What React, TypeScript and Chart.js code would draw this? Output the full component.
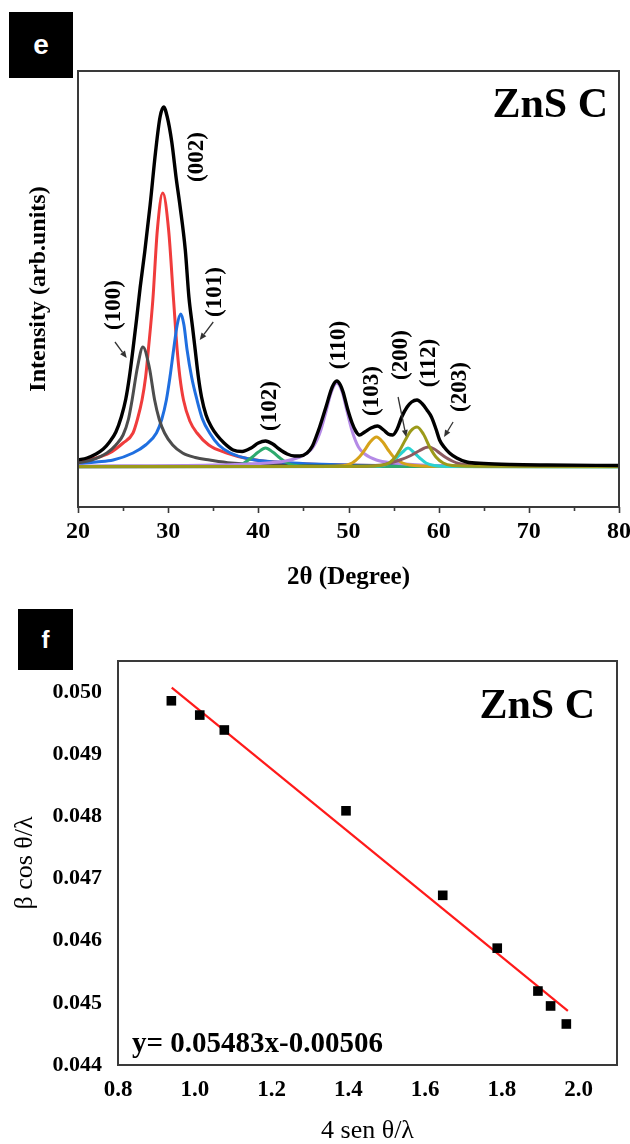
import React, { useEffect, useRef } from 'react';
import { Chart, registerables } from 'chart.js';

Chart.register(...registerables);

const SERIF = "'Liberation Serif', 'Times New Roman', Times, serif";
const SANS = "'Liberation Sans', Arial, Helvetica, sans-serif";

type Pt = [number, number];

// ---------------- Panel e : XRD profile fit (2θ in degrees, intensity arb. units) ----------------
const X_RANGE_E = [20, 80];
const Y_RANGE_E = [-40, 396];
const X_MAJOR_TICKS_E = [20, 30, 40, 50, 60, 70, 80];
const X_MINOR_TICKS_E = [25, 35, 45, 55, 65, 75];

const ENVELOPE: Pt[] = [
  [20, 7], [21, 9], [22, 13], [22.8, 18], [23.5, 25], [24.2, 35], [24.8, 50], [25.3, 68], [25.7, 90],
  [26.1, 118], [26.5, 148], [26.9, 180], [27.4, 215], [28.0, 262], [28.6, 315], [29.1, 350], [29.5, 360],
  [29.9, 350], [30.4, 325], [30.9, 288], [31.3, 262], [31.9, 217], [32.3, 170], [32.7, 140], [33.0, 117],
  [33.35, 90], [33.7, 70], [34.2, 52], [34.8, 40], [35.4, 32], [36.2, 24], [37.2, 17], [38.2, 15.5], [39.2, 19], [40, 24],
  [40.8, 26], [41.6, 23], [42.3, 18], [43.2, 13], [44, 11], [44.6, 11], [45.4, 14], [46, 21], [46.4, 30],
  [46.8, 40], [47.5, 60], [48.2, 80], [48.7, 86], [49.1, 82], [49.4, 75], [49.9, 58], [50.4, 44], [50.8, 36],
  [51.2, 32], [51.8, 35], [52.5, 39], [53.2, 41], [53.9, 37], [54.4, 33], [54.9, 32], [55.4, 38], [55.9, 50],
  [56.5, 60], [57.0, 65], [57.6, 67], [58.2, 63], [58.7, 57], [59.2, 50], [59.7, 38], [60.1, 27], [60.6, 20],
  [61.2, 14], [62, 9], [63.1, 5], [65, 3.5], [68, 2.5], [72, 2], [80, 1.5],
];
const PEAK_100: Pt[] = [
  [20, 4], [21.5, 7], [23.2, 14], [24.2, 22], [25, 32], [25.6, 48], [26, 67], [26.6, 100], [27.2, 120],
  [27.9, 100], [28.5, 67], [29, 48], [29.6, 34], [30.5, 22], [31.6, 14], [33, 9.5], [34.6, 7], [37, 4],
  [42, 2], [50, 1], [80, 0.5],
];
const PEAK_002: Pt[] = [
  [20, 5], [22, 9], [23.5, 14], [25, 24], [26.1, 34], [26.6, 48], [27.1, 67], [27.5, 90], [27.8, 117],
  [28.3, 167], [28.8, 237], [29.4, 274], [30.05, 237], [30.6, 167], [31.0, 117], [31.3, 90], [31.7, 67],
  [32.4, 46], [33.2, 34], [34.5, 22], [36.5, 14], [39, 8], [43, 4], [50, 2], [60, 1], [80, 0.5],
];
const PEAK_101: Pt[] = [
  [20, 3], [22, 5], [23.9, 7], [26.1, 14], [27.5, 22], [28.7, 34], [29.3, 48], [29.8, 67], [30.2, 90],
  [30.6, 117], [31.0, 142], [31.4, 153], [31.75, 142], [32.1, 117], [32.6, 90], [33.2, 67], [33.8, 48],
  [34.6, 34], [35.6, 22], [36.9, 14], [39, 8], [42, 5], [48, 2.5], [60, 1], [80, 0.5],
];
const PEAK_102: Pt[] = [
  [20, 0.5], [36, 0.8], [37.5, 1.5], [38.4, 4], [39.2, 9], [40, 15], [40.8, 19], [41.6, 15], [42.4, 9],
  [43.2, 4], [44.2, 1.5], [46, 0.8], [80, 0.3],
];
const PEAK_110: Pt[] = [
  [20, 1], [35, 2], [40, 3.5], [43, 6], [44.6, 10], [45.4, 14], [46, 19], [46.5, 27], [46.9, 36], [47.5, 55],
  [48.1, 75], [48.7, 84], [49.3, 75], [49.8, 57], [50.4, 36], [51.1, 20], [51.8, 13], [53.1, 7], [55, 4],
  [58, 2], [65, 1], [80, 0.5],
];
const PEAK_103: Pt[] = [
  [20, 0.3], [46, 0.5], [49, 1], [50.4, 4], [51.2, 10], [51.8, 17], [52.4, 25], [53.1, 30], [53.8, 25],
  [54.4, 17], [55, 10], [56, 4], [56.8, 2], [58, 1], [62, 0.5], [80, 0.3],
];
const PEAK_200: Pt[] = [
  [20, 0.3], [52, 0.5], [53.8, 1.5], [54.6, 4], [55.3, 9], [56, 15], [56.6, 19], [57.2, 15], [57.9, 9],
  [58.6, 4], [59.5, 1.5], [61, 0.6], [80, 0.3],
];
const PEAK_112: Pt[] = [
  [20, 0.5], [50, 0.6], [53.5, 1.5], [54.5, 4], [55.2, 10], [55.7, 17], [56.3, 27], [56.9, 36], [57.6, 40],
  [58.3, 33], [59, 20], [59.7, 10], [60.5, 4], [61.5, 1.5], [64, 0.7], [80, 0.5],
];
const PEAK_203: Pt[] = [
  [20, 0.3], [50, 0.5], [52.4, 1], [54, 2.5], [55.7, 7], [56.8, 11], [57.8, 16], [58.85, 20], [59.5, 18],
  [60.1, 14], [60.8, 9.5], [61.5, 6], [62.2, 3.5], [63.2, 2], [65, 1], [80, 0.4],
];

const PEAK_LABELS = ['(100)', '(002)', '(101)', '(102)', '(110)', '(103)', '(200)', '(112)', '(203)'];
const PEAK_LABEL_X = [24.0, 33.2, 35.2, 41.3, 48.9, 52.6, 55.8, 58.9, 62.4];
const PEAK_LABEL_Y = [162, 310, 175, 61, 122, 76, 112, 104, 80];

const ARROW_FROM_X = [24.1, 35.0, 55.5, 61.6];
const ARROW_FROM_Y = [125, 145, 70, 45];
const ARROW_TO_X = [25.4, 33.5, 56.4, 60.6];
const ARROW_TO_Y = [109, 127, 30, 30];

const SAMPLE_NAME = 'ZnS C';

// ---------------- Panel f : Williamson–Hall plot ----------------
const WH_X = [0.939, 1.013, 1.077, 1.394, 1.646, 1.788, 1.894, 1.927, 1.968];
const WH_Y = [0.04986, 0.04963, 0.04939, 0.04809, 0.04673, 0.04588, 0.04519, 0.04495, 0.04466];
const FIT_X = [0.94, 1.972];
const FIT_Y = [0.05007, 0.04487];
const X_RANGE_F = [0.8, 2.1];
const Y_RANGE_F = [0.044, 0.0505];
const FIT_EQUATION = 'y= 0.05483x-0.00506';

const toXY = (pts: Pt[]) => pts.map(([x, y]) => ({ x, y }));

const framePlugin = {
  id: 'frame',
  afterDatasetsDraw(chart: any) {
    const { ctx, chartArea: a } = chart;
    ctx.save();
    ctx.strokeStyle = '#3a3a3a';
    ctx.lineWidth = 2;
    ctx.strokeRect(a.left, a.top, a.right - a.left, a.bottom - a.top);
    ctx.restore();
  },
};

const annotE = {
  id: 'annotE',
  afterDraw(chart: any) {
    const { ctx, chartArea: a } = chart;
    const xs = chart.scales.x;
    const ys = chart.scales.y;
    ctx.save();
    // ticks
    ctx.strokeStyle = '#3a3a3a';
    ctx.lineWidth = 1.6;
    X_MAJOR_TICKS_E.forEach((v) => {
      const p = Math.round(xs.getPixelForValue(v)) + 0.5;
      ctx.beginPath();
      ctx.moveTo(p, a.bottom);
      ctx.lineTo(p, a.bottom + 6);
      ctx.stroke();
    });
    X_MINOR_TICKS_E.forEach((v) => {
      const p = Math.round(xs.getPixelForValue(v)) + 0.5;
      ctx.beginPath();
      ctx.moveTo(p, a.bottom);
      ctx.lineTo(p, a.bottom + 4);
      ctx.stroke();
    });
    // peak labels
    ctx.fillStyle = '#000';
    ctx.font = `bold 23px ${SERIF}`;
    ctx.textAlign = 'center';
    ctx.textBaseline = 'middle';
    PEAK_LABELS.forEach((t, i) => {
      ctx.save();
      ctx.translate(xs.getPixelForValue(PEAK_LABEL_X[i]), ys.getPixelForValue(PEAK_LABEL_Y[i]));
      ctx.rotate(-Math.PI / 2);
      ctx.fillText(t, 0, 0);
      ctx.restore();
    });
    // arrows
    ctx.strokeStyle = '#333';
    ctx.fillStyle = '#333';
    ctx.lineWidth = 1.3;
    ARROW_FROM_X.forEach((fx, i) => {
      const x1 = xs.getPixelForValue(fx);
      const y1 = ys.getPixelForValue(ARROW_FROM_Y[i]);
      const x2 = xs.getPixelForValue(ARROW_TO_X[i]);
      const y2 = ys.getPixelForValue(ARROW_TO_Y[i]);
      const ang = Math.atan2(y2 - y1, x2 - x1);
      const hl = 7;
      const hw = 3;
      const bx = x2 - hl * Math.cos(ang);
      const by = y2 - hl * Math.sin(ang);
      ctx.beginPath();
      ctx.moveTo(x1, y1);
      ctx.lineTo(bx, by);
      ctx.stroke();
      ctx.beginPath();
      ctx.moveTo(x2, y2);
      ctx.lineTo(bx + hw * Math.sin(ang), by - hw * Math.cos(ang));
      ctx.lineTo(bx - hw * Math.sin(ang), by + hw * Math.cos(ang));
      ctx.closePath();
      ctx.fill();
    });
    // sample name
    ctx.fillStyle = '#000';
    ctx.font = `bold 42px ${SERIF}`;
    ctx.textAlign = 'right';
    ctx.textBaseline = 'alphabetic';
    ctx.fillText(SAMPLE_NAME, a.right - 11, a.top + 46);
    ctx.restore();
  },
};

const annotF = {
  id: 'annotF',
  afterDraw(chart: any) {
    const { ctx, chartArea: a } = chart;
    ctx.save();
    ctx.fillStyle = '#000';
    ctx.font = `bold 42px ${SERIF}`;
    ctx.textAlign = 'right';
    ctx.textBaseline = 'alphabetic';
    ctx.fillText(SAMPLE_NAME, a.right - 22, a.top + 57);
    ctx.font = `bold 29px ${SERIF}`;
    ctx.textAlign = 'left';
    ctx.fillText(FIT_EQUATION, a.left + 14, a.bottom - 13);
    ctx.restore();
  },
};

const curve = (label: string, pts: Pt[], color: string, width: number, order: number) => ({
  type: 'line' as const,
  label,
  data: toXY(pts),
  borderColor: color,
  backgroundColor: color,
  borderWidth: width,
  pointRadius: 0,
  fill: false,
  cubicInterpolationMode: 'monotone' as const,
  order,
});

const noSidePadding = (s: any) => {
  s.paddingLeft = 0;
  s.paddingRight = 0;
};

function PanelE() {
  const ref = useRef<HTMLCanvasElement>(null);
  useEffect(() => {
    if (!ref.current) return;
    const chart = new Chart(ref.current, {
      type: 'line',
      data: {
        datasets: [
          curve('Envelope', ENVELOPE, '#000000', 3.4, 0),
          curve('(112)', PEAK_112, '#9c9a1a', 3, 1),
          curve('(203)', PEAK_203, '#8c5a60', 3, 2),
          curve('(200)', PEAK_200, '#2ad2d2', 3, 3),
          curve('(103)', PEAK_103, '#d6a21a', 3, 4),
          curve('(110)', PEAK_110, '#b48ae6', 3, 5),
          curve('(102)', PEAK_102, '#2eaa6e', 3, 6),
          curve('(100)', PEAK_100, '#4d4d4d', 3, 7),
          curve('(101)', PEAK_101, '#1f6fe0', 3, 8),
          curve('(002)', PEAK_002, '#f03c3c', 3, 9),
        ] as any,
      },
      options: {
        animation: false,
        responsive: false,
        maintainAspectRatio: false,
        layout: { padding: { left: 0, right: 11, top: 71, bottom: 0 } },
        plugins: { legend: { display: false }, tooltip: { enabled: false } },
        scales: {
          x: {
            type: 'linear',
            min: X_RANGE_E[0],
            max: X_RANGE_E[1],
            afterFit: (s: any) => { s.height = 93; noSidePadding(s); },
            ticks: {
              stepSize: 10,
              color: '#000',
              font: { family: SERIF, size: 24, weight: 'bold' },
              padding: 10,
              maxRotation: 0,
              autoSkip: false,
            },
            grid: { display: false, drawTicks: false },
            border: { display: false },
            title: {
              display: true,
              text: '2θ (Degree)',
              color: '#000',
              font: { family: SERIF, size: 25, weight: 'bold', lineHeight: 1.2 },
              padding: { top: 0, bottom: 7 },
            },
          },
          y: {
            type: 'linear',
            min: Y_RANGE_E[0],
            max: Y_RANGE_E[1],
            afterFit: (s: any) => { s.width = 78; },
            ticks: { display: false },
            grid: { display: false, drawTicks: false },
            border: { display: false },
            title: {
              display: true,
              text: 'Intensity (arb.units)',
              color: '#000',
              font: { family: SERIF, size: 24, weight: 'bold', lineHeight: 1.2 },
              padding: { top: 24, bottom: 0 },
            },
          },
        },
      } as any,
      plugins: [framePlugin, annotE],
    });
    return () => chart.destroy();
  }, []);
  return <canvas ref={ref} width={630} height={600} style={{ display: 'block' }} />;
}

function PanelF() {
  const ref = useRef<HTMLCanvasElement>(null);
  useEffect(() => {
    if (!ref.current) return;
    const chart = new Chart(ref.current, {
      type: 'scatter',
      data: {
        datasets: [
          {
            label: 'data',
            data: WH_X.map((x, i) => ({ x, y: WH_Y[i] })),
            pointStyle: 'rect',
            pointRadius: 6.8,
            pointBackgroundColor: '#000',
            pointBorderColor: '#000',
            pointBorderWidth: 0,
            showLine: false,
            order: 1,
          },
          {
            label: 'fit',
            data: FIT_X.map((x, i) => ({ x, y: FIT_Y[i] })),
            showLine: true,
            borderColor: '#ff1a1a',
            borderWidth: 2.2,
            pointRadius: 0,
            order: 2,
          },
        ] as any,
      },
      options: {
        animation: false,
        responsive: false,
        maintainAspectRatio: false,
        layout: { padding: { left: 0, right: 13, top: 61, bottom: 0 } },
        plugins: { legend: { display: false }, tooltip: { enabled: false } },
        scales: {
          x: {
            type: 'linear',
            min: X_RANGE_F[0],
            max: X_RANGE_F[1],
            afterFit: (s: any) => { s.height = 79; noSidePadding(s); },
            ticks: {
              stepSize: 0.2,
              includeBounds: false,
              callback: (v: any) => Number(v).toFixed(1),
              color: '#000',
              font: { family: SERIF, size: 23, weight: 'bold' },
              padding: 11,
              maxRotation: 0,
              autoSkip: false,
            },
            grid: { display: false, drawTicks: false },
            border: { display: false },
            title: {
              display: true,
              text: '4 sen θ/λ',
              color: '#000',
              font: { family: SERIF, size: 26, weight: 'normal', lineHeight: 1 },
              padding: { top: 0, bottom: 0 },
            },
          },
          y: {
            type: 'linear',
            min: Y_RANGE_F[0],
            max: Y_RANGE_F[1],
            afterFit: (s: any) => { s.width = 118; },
            ticks: {
              stepSize: 0.001,
              includeBounds: false,
              callback: (v: any) => Number(v).toFixed(3),
              color: '#000',
              font: { family: SERIF, size: 22, weight: 'bold' },
              padding: 16,
              autoSkip: false,
            },
            grid: { display: false, drawTicks: false },
            border: { display: false },
            title: {
              display: true,
              text: 'β cos θ/λ',
              color: '#000',
              font: { family: SERIF, size: 26, weight: 'normal', lineHeight: 1 },
              padding: { top: 12, bottom: 0 },
            },
          },
        },
      } as any,
      plugins: [framePlugin, annotF],
    });
    return () => chart.destroy();
  }, []);
  return <canvas ref={ref} width={630} height={544} style={{ display: 'block' }} />;
}

const badge = (left: number, top: number, w: number, h: number, size: number): React.CSSProperties => ({
  position: 'absolute',
  left,
  top,
  width: w,
  height: h,
  background: '#000',
  color: '#fff',
  fontFamily: SANS,
  fontWeight: 'bold',
  fontSize: size,
  lineHeight: `${h}px`,
  textAlign: 'center',
});

export default function App() {
  return (
    <div style={{ position: 'absolute', left: 0, top: 0, width: 630, height: 1144, background: '#fff', overflow: 'hidden' }}>
      <div style={{ position: 'absolute', left: 0, top: 0 }}>
        <PanelE />
      </div>
      <div style={{ position: 'absolute', left: 0, top: 600 }}>
        <PanelF />
      </div>
      <div style={badge(9, 12, 64, 66, 28)}>e</div>
      <div style={badge(18, 609, 55, 61, 24)}>f</div>
    </div>
  );
}
